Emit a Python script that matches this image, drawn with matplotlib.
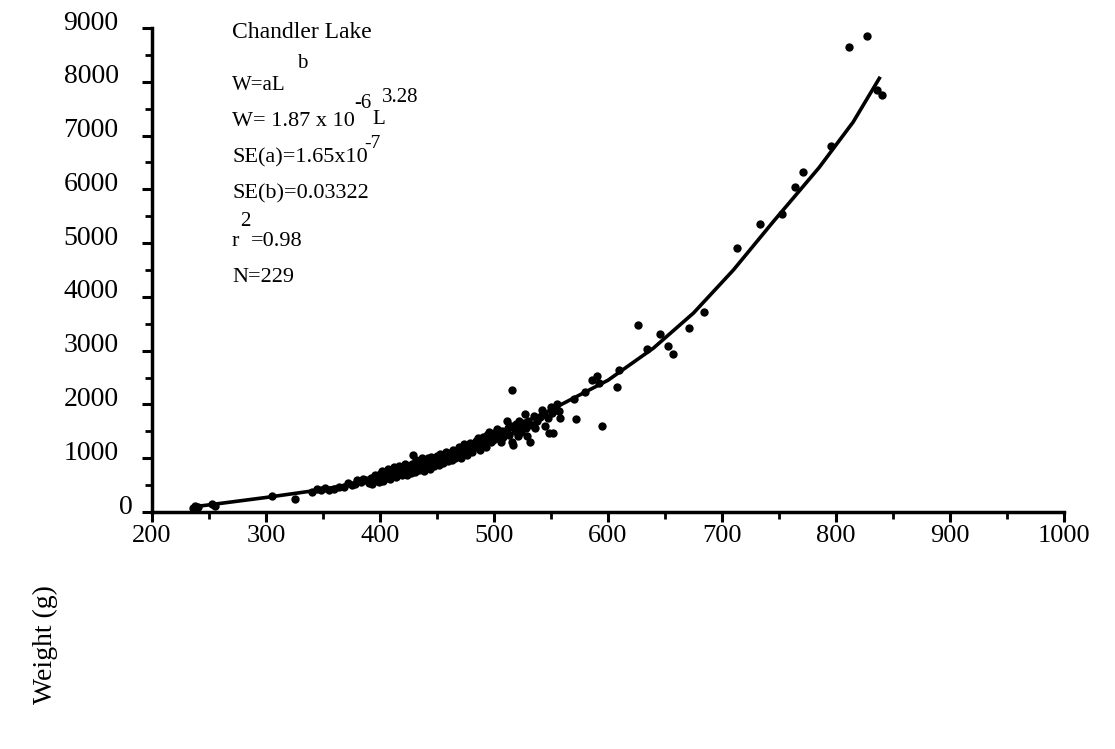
import matplotlib.pyplot as plt
from matplotlib.ticker import MultipleLocator
import matplotlib.transforms as mtransforms

plt.rcParams["font.family"] = ["Liberation Serif", "DejaVu Serif"]

# fork length (mm) and weight (g)
length = [
    236, 238, 240, 253, 255, 305, 325, 340, 345, 348, 352, 355, 360, 364, 368,
    372, 375, 378, 380, 383, 385, 388, 390, 392, 393, 395, 396, 398, 399,
    400, 401, 402, 403, 404, 405, 406, 407, 408, 409, 410, 411, 412, 413, 414,
    415, 416, 417, 418, 419, 420, 421, 422, 423, 424, 425, 426, 427, 428, 429,
    430, 431, 432, 433, 434, 435, 436, 437, 438, 439, 440, 441, 442, 443, 444,
    445, 446, 447, 448, 449,
    450, 451, 452, 453, 454, 455, 456, 457, 458, 459, 460, 461, 462, 463, 464,
    465, 466, 467, 468, 469, 470, 471, 472, 473, 474, 475, 476, 477, 478, 479,
    480, 481, 482, 484, 485, 486, 487, 488, 489, 490, 491, 492, 493, 494, 495,
    496, 497, 498, 499,
    500, 502, 503, 505, 506, 507, 508, 516, 511, 512, 513, 515, 516, 517, 518,
    519, 520, 521, 522, 523, 524, 526, 527, 528, 529, 530, 532, 533, 535, 536,
    538, 540, 542, 544, 545, 547, 548, 550, 551, 552, 554, 555, 557, 558,
    570, 572, 580, 586, 590, 592, 595, 608, 610,
    626, 634, 646, 653, 657, 671, 684, 713, 733, 753, 764, 771, 796, 811, 827,
    836, 840,
]
weight = [
    70, 110, 95, 140, 120, 290, 250, 380, 430, 400, 450, 410, 430, 470, 460,
    540, 500, 520, 600, 560, 620, 600, 540, 640, 520, 600, 680, 650, 560,
    700, 620, 760, 580, 680, 740, 640, 800, 700, 620, 760, 680, 840, 720, 650,
    780, 700, 860, 740, 680, 800, 720, 900, 760, 680, 840, 780, 720, 900, 1060,
    800, 740, 960, 860, 780, 920, 820, 1000, 880, 760, 960, 860, 1000, 900, 800,
    1020, 940, 860, 980, 900,
    1040, 960, 880, 1080, 1000, 920, 1060, 980, 1120, 1020, 940, 1100, 1040, 960, 1160,
    1060, 1000, 1140, 1080, 1200, 1100, 1000, 1180, 1120, 1260, 1140, 1060, 1220, 1160, 1280,
    1180, 1120, 1240, 1320, 1200, 1380, 1260, 1160, 1300, 1400, 1340, 1260, 1200, 1440, 1360,
    1480, 1300, 1400, 1340,
    1460, 1380, 1540, 1440, 1300, 1500, 1400, 2260, 1700, 1560, 1440, 1600, 1300, 1240, 1500,
    1640, 1560, 1420, 1700, 1600, 1480, 1660, 1820, 1560, 1420, 1700, 1300, 1620, 1780, 1560,
    1700, 1760, 1900, 1820, 1600, 1740, 1460, 1960, 1840, 1460, 1900, 2000, 1880, 1740,
    2100, 1730, 2230, 2450, 2520, 2400, 1600, 2320, 2640,
    3478, 3033, 3302, 3083, 2939, 3415, 3722, 4912, 5351, 5545, 6039, 6329, 6811, 8650, 8850,
    7850, 7750,
]

# fitted curve W = aL^b as drawn
fit_length = [238, 260, 300, 350, 400, 450, 500, 550, 600, 640, 675, 710, 745, 785, 815, 838]
fit_weight = [100, 160, 270, 420, 620, 950, 1400, 1900, 2450, 3050, 3700, 4500, 5400, 6400, 7250, 8064]

fig = plt.figure(figsize=(11.15, 7.49), dpi=100)
ax = fig.add_axes([152 / 1115, (749 - 512) / 749, (1064 - 152) / 1115, (512 - 28) / 749])

ax.scatter(length, weight, s=36, color="black", zorder=3, linewidths=0)
ax.plot(fit_length, fit_weight, color="black", lw=2.6, zorder=2)

ax.set_xlim(200, 1000)
ax.set_ylim(0, 9000)
ax.xaxis.set_major_locator(MultipleLocator(100))
ax.xaxis.set_minor_locator(MultipleLocator(50))
ax.yaxis.set_major_locator(MultipleLocator(1000))
ax.yaxis.set_minor_locator(MultipleLocator(500))

for s in ["top", "right"]:
    ax.spines[s].set_visible(False)
for s in ["left", "bottom"]:
    ax.spines[s].set_linewidth(2.5)

ax.tick_params(which="major", direction="out", length=7, width=2.2, labelsize=19, pad=2)
ax.tick_params(which="minor", direction="out", length=5, width=2.0)
ax.tick_params(axis="y", labelsize=20, pad=17)

# y labels sit a little above their ticks; the 0 sits closer to the axis
fig.canvas.draw()
for tick in ax.yaxis.get_major_ticks():
    dx = 14 / 100 if abs(tick.get_loc()) < 1 else 0
    shift = mtransforms.ScaledTranslation(dx, 8 / 100, fig.dpi_scale_trans)
    tick.label1.set_transform(tick.label1.get_transform() + shift)

# equation block, positioned in figure pixels
def note(px, py, s, size=16):
    fig.text(px / 1115, 1 - py / 749, s, fontsize=size, va="center", ha="left")

note(232, 33, "Chandler Lake", 17)
note(232, 86, "W=aL", 15)
note(297, 63, "b", 15)
note(232, 121, "W= 1.87 x 10", 16)
note(354, 103, "-6", 15)
note(372, 120, "L", 15)
note(382, 97, "3.28", 15)
note(233, 158, "SE(a)=1.65x10", 16)
note(364, 144, "-7", 14)
note(233, 194, "SE(b)=0.03322", 16)
note(232, 241, "r", 16)
note(240, 222, "2", 15)
note(251, 242, "=0.98", 16)
note(232, 278, "N=229", 16)

fig.text(45 / 1115, 1 - 645 / 749, "Weight (g)", rotation=90, fontsize=20,
         ha="center", va="center")

fig.savefig("out.png", dpi=100)
